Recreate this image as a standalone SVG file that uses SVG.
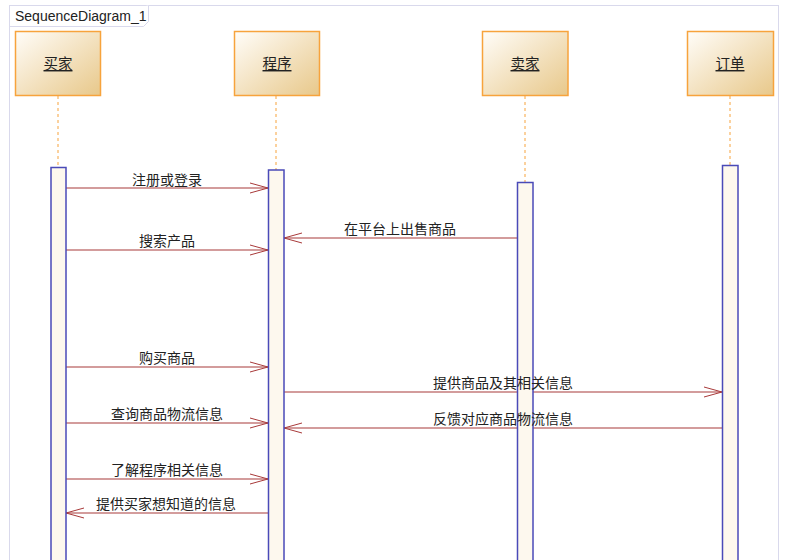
<svg xmlns="http://www.w3.org/2000/svg" width="786" height="560" viewBox="0 0 786 560">
<defs>
<linearGradient id="hdr" x1="0" y1="0" x2="1" y2="1">
<stop offset="0" stop-color="#fffdf9"/>
<stop offset="1" stop-color="#e8c88a"/>
</linearGradient>
<marker id="open" markerWidth="20" markerHeight="12" refX="18" refY="6" orient="auto" markerUnits="userSpaceOnUse">
<path d="M0,1 L18,6 L0,11" fill="none" stroke="#a83a3a" stroke-width="1"/>
</marker>
<style>
.frame{fill:#fff;stroke:#d9d9ec;stroke-width:1}
.hdr{fill:url(#hdr);stroke:#f7a33c;stroke-width:1.5}
.life{stroke:#f7a33c;stroke-width:1;stroke-dasharray:3 3}
.act{fill:#fdf8ee;stroke:#4a4ab8;stroke-width:1.5}
.msg{stroke:#a83a3a;stroke-width:1.2;fill:none;marker-end:url(#open)}
.lbl{font-family:"Noto Sans CJK SC","Liberation Sans",sans-serif;font-size:14px;fill:#222;text-anchor:middle}
.name{font-family:"Noto Sans CJK SC","Liberation Sans",sans-serif;font-size:14.5px;fill:#222;text-anchor:middle;text-decoration:underline}
.title{font-family:"Liberation Sans",Arial,sans-serif;font-size:14px;fill:#222}
</style>
</defs>
<rect width="786" height="560" fill="#fff"/>
<g id="frame">
<rect class="frame" x="9.5" y="5.5" width="769" height="570"/>
<path class="frame" d="M9.5,26.5 H143.5 L148.5,21.5 V5.5"/>
<text class="title" x="15" y="21">SequenceDiagram_1</text>
</g>
<g id="connectors">
<line class="msg" x1="66" y1="188" x2="268" y2="188"/>
<line class="msg" x1="517" y1="238" x2="284" y2="238"/>
<line class="msg" x1="66" y1="250" x2="268" y2="250"/>
<line class="msg" x1="66" y1="367" x2="268" y2="367"/>
<line class="msg" x1="284" y1="392" x2="722" y2="392"/>
<line class="msg" x1="66" y1="423" x2="268" y2="423"/>
<line class="msg" x1="722" y1="428" x2="284" y2="428"/>
<line class="msg" x1="66" y1="479" x2="268" y2="479"/>
<line class="msg" x1="268" y1="513" x2="66" y2="513"/>
</g>
<g id="node-buyer">
<rect class="hdr" x="15.5" y="31.5" width="85" height="64"/>
<text class="name" x="58" y="69">买家</text>
<line class="life" x1="58" y1="96" x2="58" y2="167"/>
<rect class="act" x="51" y="167.5" width="15" height="400"/>
</g>
<g id="node-program">
<rect class="hdr" x="234.5" y="31.5" width="85" height="64"/>
<text class="name" x="277" y="69">程序</text>
<line class="life" x1="276" y1="96" x2="276" y2="170"/>
<rect class="act" x="268.5" y="170" width="15.5" height="400"/>
</g>
<g id="node-seller">
<rect class="hdr" x="482.5" y="31.5" width="85.5" height="64"/>
<text class="name" x="525" y="69">卖家</text>
<line class="life" x1="525" y1="96" x2="525" y2="182"/>
<rect class="act" x="517.5" y="182.5" width="15.5" height="400"/>
</g>
<g id="node-order">
<rect class="hdr" x="687.5" y="31.5" width="86" height="64"/>
<text class="name" x="730" y="69">订单</text>
<line class="life" x1="730" y1="96" x2="730" y2="165"/>
<rect class="act" x="722.5" y="165.5" width="15.5" height="400"/>
</g>
<g id="connector-labels">
<text class="lbl" x="167" y="185">注册或登录</text>
<text class="lbl" x="400" y="234">在平台上出售商品</text>
<text class="lbl" x="167" y="246">搜索产品</text>
<text class="lbl" x="167" y="363">购买商品</text>
<text class="lbl" x="503" y="388">提供商品及其相关信息</text>
<text class="lbl" x="167" y="419">查询商品物流信息</text>
<text class="lbl" x="503" y="424">反馈对应商品物流信息</text>
<text class="lbl" x="167" y="475">了解程序相关信息</text>
<text class="lbl" x="166" y="509">提供买家想知道的信息</text>
</g>
</svg>
